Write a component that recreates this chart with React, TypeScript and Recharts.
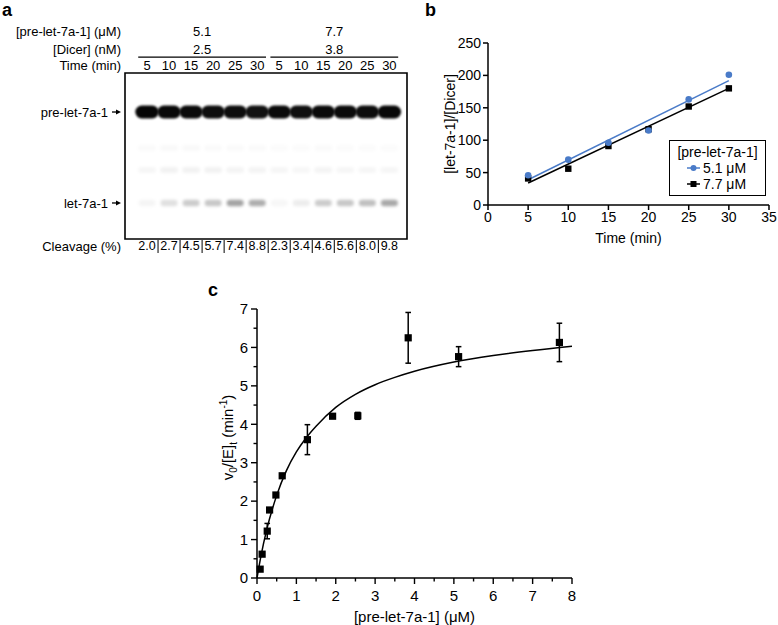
import React from 'react';
import {
  ComposedChart,
  ScatterChart,
  Scatter,
  Line,
  XAxis,
  YAxis,
  ReferenceArea,
  ReferenceDot,
  ReferenceLine,
  ErrorBar,
} from 'recharts';

const FONT = '"Liberation Sans", Arial, Helvetica, sans-serif';
const BLUE = '#4a7bc8';

// ---------- Panel a (gel) ----------
const laneNumbers = [1, 2, 3, 4, 5, 6, 7, 8, 9, 10, 11, 12];
const laneTimes = ['5', '10', '15', '20', '25', '30', '5', '10', '15', '20', '25', '30'];
const cleavagePct = ['2.0', '2.7', '4.5', '5.7', '7.4', '8.8', '2.3', '3.4', '4.6', '5.6', '8.0', '9.8'];
const preLetConc = ['5.1', '7.7'];
const dicerConc = ['2.5', '3.8'];
const groupCenters = [3.5, 9.5];
const groupSpans = [
  [0.6, 6.4],
  [6.6, 12.4],
];
const bandNames = ['pre-let-7a-1', 'let-7a-1'];
const bandPositions = [0.765, 0.217];
const preBandIntensity = [0.98, 0.97, 0.96, 0.95, 0.95, 0.93, 0.96, 0.94, 0.96, 0.96, 0.95, 0.97];
const letBandIntensity = [0.04, 0.12, 0.2, 0.22, 0.36, 0.32, 0.03, 0.07, 0.2, 0.22, 0.25, 0.34];
const midBandIntensity = [0.035, 0.05, 0.05, 0.05, 0.045, 0.045, 0.035, 0.03, 0.045, 0.035, 0.035, 0.035];
const upperBandIntensity = [0.02, 0.025, 0.025, 0.02, 0.02, 0.02, 0.015, 0.015, 0.02, 0.015, 0.015, 0.015];
const midBandPosition = 0.416;
const upperBandPosition = 0.548;

// layout rows (gel coordinate system, 0 = bottom edge, 1 = top edge)
const ROW_CONC = 1.253;
const ROW_DICER = 1.145;
const ROW_LINE = 1.096;
const ROW_TIME = 1.048;
const ROW_CLEAV = -0.042;
const GEL_MAX = 12.8;

const preBand = laneNumbers.map((l, i) => ({ lane: l, pos: bandPositions[0], intensity: preBandIntensity[i] }));
const letBand = laneNumbers.map((l, i) => ({ lane: l, pos: bandPositions[1], intensity: letBandIntensity[i] }));
const midBand = laneNumbers.map((l, i) => ({ lane: l, pos: midBandPosition, intensity: midBandIntensity[i] }));
const upperBand = laneNumbers.map((l, i) => ({ lane: l, pos: upperBandPosition, intensity: upperBandIntensity[i] }));

// ---------- Panel b ----------
const timePoints = [5, 10, 15, 20, 25, 30];
const ratio51 = [46, 70, 96, 115, 163, 201];
const ratio77 = [41, 56, 91, 117, 152, 180];
const fitTimes = [5, 30];
const fit51Values = [39, 192];
const fit77Values = [34, 180];
const bXTicks = [0, 5, 10, 15, 20, 25, 30, 35];
const bYTicks = [0, 50, 100, 150, 200, 250];

const pts51 = timePoints.map((t, i) => ({ t, v: ratio51[i] }));
const pts77 = timePoints.map((t, i) => ({ t, v: ratio77[i] }));
const fit51 = fitTimes.map((t, i) => ({ t, v: fit51Values[i] }));
const fit77 = fitTimes.map((t, i) => ({ t, v: fit77Values[i] }));

// ---------- Panel c ----------
const substrateUM = [0.08, 0.13, 0.26, 0.32, 0.48, 0.64, 1.28, 1.92, 2.56, 3.84, 5.12, 7.68];
const rate = [0.23, 0.62, 1.22, 1.77, 2.16, 2.66, 3.6, 4.21, 4.22, 6.25, 5.76, 6.13];
const rateErr = [0, 0, 0.2, 0, 0, 0, 0.39, 0, 0.09, 0.66, 0.26, 0.5];
const curveX = [0, 0.1, 0.25, 0.5, 0.75, 1, 1.25, 1.5, 2, 2.5, 3, 3.5, 4, 5, 6, 7, 8];
const curveY = [0, 0.57, 1.27, 2.15, 2.8, 3.28, 3.65, 3.95, 4.44, 4.78, 5.03, 5.22, 5.38, 5.62, 5.79, 5.92, 6.03];
const cXTicks = [0, 0.5, 1, 1.5, 2, 2.5, 3, 3.5, 4, 4.5, 5, 5.5, 6, 6.5, 7, 7.5, 8];
const cYTicks = [0, 0.5, 1, 1.5, 2, 2.5, 3, 3.5, 4, 4.5, 5, 5.5, 6, 6.5, 7];

const kinetics = substrateUM.map((s, i) => ({ s, v: rate[i], err: rateErr[i] }));
const mmCurve = curveX.map((s, i) => ({ s, v: curveY[i] }));

// ---------- helpers ----------
const isMajor = (v: number) => Math.abs(v - Math.round(v)) < 1e-6;

const TimeTick = (p: any) => (
  <text x={p.x} y={p.y - 8} dy="0.35em" textAnchor="middle" fontSize={13} fill="#000">
    {laneTimes[p.payload.value - 1]}
  </text>
);

const CleavageTick = (p: any) => {
  const i = p.payload.value - 1;
  return (
    <g>
      <text x={p.x} y={p.y + 7} dy="0.35em" textAnchor="middle" fontSize={12.5} fill="#000">
        {cleavagePct[i]}
      </text>
      {i < 11 && <line x1={p.x + 11} x2={p.x + 11} y1={p.y + 1} y2={p.y + 14} stroke="#000" strokeWidth={1} />}
    </g>
  );
};

const BandTick = (p: any) => {
  const idx = bandPositions.findIndex((b) => Math.abs(b - p.payload.value) < 1e-6);
  return (
    <g>
      <text x={p.x - 17} y={p.y} dy="0.35em" textAnchor="end" fontSize={13} fill="#000">
        {bandNames[idx]}
      </text>
      <line x1={p.x - 13} x2={p.x - 8} y1={p.y} y2={p.y} stroke="#000" strokeWidth={1.3} />
      <polygon points={`${p.x - 4},${p.y} ${p.x - 9},${p.y - 2.6} ${p.x - 9},${p.y + 2.6}`} fill="#000" />
    </g>
  );
};

const makeBand = (w: number, h: number, blur: string) => (p: any) => (
  <rect
    x={p.cx - w / 2}
    y={p.cy - h / 2}
    width={w}
    height={h}
    rx={h / 2}
    fill="#000"
    fillOpacity={p.payload.intensity}
    filter={`url(#${blur})`}
  />
);

const BCircle = (p: any) => <circle cx={p.cx} cy={p.cy} r={3.3} fill={BLUE} />;
const BSquare = (p: any) => <rect x={p.cx - 3.2} y={p.cy - 3.2} width={6.4} height={6.4} fill="#000" />;
const CSquare = (p: any) => <rect x={p.cx - 3.6} y={p.cy - 3.6} width={7.2} height={7.2} fill="#000" />;

const XTitle = (props: any) => {
  const vb = props.viewBox || { x: 0, y: 0, width: 0, height: 0 };
  return (
    <text x={vb.x + vb.width / 2} y={vb.y + props.off} dy="0.35em" textAnchor="middle" fontSize={props.fs} fill="#000">
      {props.text}
    </text>
  );
};

const YTitleB = (props: any) => {
  const vb = props.viewBox || { x: 0, y: 0, width: 0, height: 0 };
  const cx = vb.x + 50;
  const cy = vb.y + vb.height / 2;
  return (
    <text x={cx} y={cy} dy="0.35em" textAnchor="middle" fontSize={14} fill="#000" transform={`rotate(-90, ${cx}, ${cy})`}>
      [let-7a-1]/[Dicer]
    </text>
  );
};

const YTitleC = (props: any) => {
  const vb = props.viewBox || { x: 0, y: 0, width: 0, height: 0 };
  const cx = vb.x + 228;
  const cy = vb.y + vb.height / 2 - 6;
  return (
    <text x={cx} y={cy} dy="0.35em" textAnchor="middle" fontSize={15} fill="#000" transform={`rotate(-90, ${cx}, ${cy})`}>
      v
      <tspan dy="4" fontSize={10}>0</tspan>
      <tspan dy="-4">/[E]</tspan>
      <tspan dy="4" fontSize={10}>t</tspan>
      <tspan dy="-4"> (min</tspan>
      <tspan dy="-6" fontSize={10}>-1</tspan>
      <tspan dy="6">)</tspan>
    </text>
  );
};

const CXTick = (p: any) => {
  const v = p.payload.value;
  const major = isMajor(v);
  return (
    <g>
      <line x1={p.x} x2={p.x} y1={p.y} y2={p.y + (major ? 6 : 3.5)} stroke="#000" strokeWidth={1.4} />
      {major && (
        <text x={p.x} y={p.y + 12} dy="0.71em" textAnchor="middle" fontSize={15} fill="#000">
          {v}
        </text>
      )}
    </g>
  );
};

const CYTick = (p: any) => {
  const v = p.payload.value;
  const major = isMajor(v);
  return (
    <g>
      <line x1={p.x} x2={p.x - (major ? 6 : 3.5)} y1={p.y} y2={p.y} stroke="#000" strokeWidth={1.4} />
      {major && (
        <text x={p.x - 9} y={p.y} dy="0.35em" textAnchor="end" fontSize={15} fill="#000">
          {v}
        </text>
      )}
    </g>
  );
};

const panelLetter = (ch: string, left: number, top: number) => (
  <div
    style={{
      position: 'absolute',
      left,
      top,
      fontWeight: 'bold',
      fontSize: 18,
      lineHeight: '18px',
      fontFamily: FONT,
    }}
  >
    {ch}
  </div>
);

export default function App() {
  return (
    <div style={{ position: 'relative', width: 778, height: 625, background: '#fff', fontFamily: FONT, overflow: 'hidden' }}>
      <style>{`body{margin:0;}`}</style>
      {panelLetter('a', 2, 1)}
      {panelLetter('b', 425, 1)}
      {panelLetter('c', 208, 281)}

      {/* Panel a: gel */}
      <div style={{ position: 'absolute', left: 0, top: 0 }}>
        <ScatterChart width={420} height={262} margin={{ top: 0, right: 13, bottom: 0, left: 0 }}>
          <defs>
            <filter id="blurStrong" x="-50%" y="-50%" width="200%" height="200%">
              <feGaussianBlur stdDeviation="1.2" />
            </filter>
            <filter id="blurSoft" x="-50%" y="-80%" width="200%" height="260%">
              <feGaussianBlur stdDeviation="1.8" />
            </filter>
          </defs>
          <XAxis
            xAxisId="t"
            orientation="top"
            type="number"
            dataKey="lane"
            domain={[0, GEL_MAX]}
            ticks={laneNumbers}
            height={73}
            axisLine={false}
            tickLine={false}
            tickSize={0}
            tickMargin={0}
            tick={TimeTick}
            interval={0}
          />
          <XAxis
            xAxisId="c"
            orientation="bottom"
            type="number"
            dataKey="lane"
            domain={[0, GEL_MAX]}
            ticks={laneNumbers}
            height={23}
            axisLine={false}
            tickLine={false}
            tickSize={0}
            tickMargin={0}
            tick={CleavageTick}
            interval={0}
          />
          <YAxis
            type="number"
            dataKey="pos"
            domain={[0, 1]}
            ticks={bandPositions}
            width={125}
            axisLine={false}
            tickLine={false}
            tickSize={0}
            tickMargin={0}
            tick={BandTick}
            interval={0}
          />
          <ReferenceArea xAxisId="t" x1={0} x2={GEL_MAX} y1={0} y2={1} fill="#fff" fillOpacity={0} stroke="#000" strokeWidth={1.6} ifOverflow="visible" />
          <Scatter xAxisId="t" data={upperBand} dataKey="pos" shape={makeBand(18, 6, 'blurSoft')} isAnimationActive={false} />
          <Scatter xAxisId="t" data={midBand} dataKey="pos" shape={makeBand(18, 6, 'blurSoft')} isAnimationActive={false} />
          <Scatter xAxisId="c" data={letBand} dataKey="pos" shape={makeBand(17, 6.5, 'blurSoft')} isAnimationActive={false} />
          <Scatter xAxisId="t" data={preBand} dataKey="pos" shape={makeBand(23.5, 13, 'blurStrong')} isAnimationActive={false} />

          <ReferenceDot xAxisId="t" x={0} y={ROW_CONC} r={0} fill="none" stroke="none" ifOverflow="visible"
            label={{ value: '[pre-let-7a-1] (\u03bcM)', position: 'left', offset: 4, fontSize: 13, fill: '#000' }} />
          <ReferenceDot xAxisId="t" x={0} y={ROW_DICER} r={0} fill="none" stroke="none" ifOverflow="visible"
            label={{ value: '[Dicer] (nM)', position: 'left', offset: 4, fontSize: 13, fill: '#000' }} />
          <ReferenceDot xAxisId="t" x={0} y={ROW_TIME} r={0} fill="none" stroke="none" ifOverflow="visible"
            label={{ value: 'Time (min)', position: 'left', offset: 4, fontSize: 13, fill: '#000' }} />
          <ReferenceDot xAxisId="t" x={0} y={ROW_CLEAV} r={0} fill="none" stroke="none" ifOverflow="visible"
            label={{ value: 'Cleavage (%)', position: 'left', offset: 4, fontSize: 13, fill: '#000' }} />
          {groupCenters.map((g, i) => (
            <ReferenceDot key={`c${i}`} xAxisId="t" x={g} y={ROW_CONC} r={0} fill="none" stroke="none" ifOverflow="visible"
              label={{ value: preLetConc[i], position: 'center', fontSize: 13, fill: '#000' }} />
          ))}
          {groupCenters.map((g, i) => (
            <ReferenceDot key={`d${i}`} xAxisId="t" x={g} y={ROW_DICER} r={0} fill="none" stroke="none" ifOverflow="visible"
              label={{ value: dicerConc[i], position: 'center', fontSize: 13, fill: '#000' }} />
          ))}
          {groupSpans.map((s, i) => (
            <ReferenceLine key={`l${i}`} xAxisId="t" segment={[{ x: s[0], y: ROW_LINE }, { x: s[1], y: ROW_LINE }]}
              stroke="#000" strokeWidth={1.2} ifOverflow="visible" />
          ))}
        </ScatterChart>
      </div>

      {/* Panel b */}
      <div style={{ position: 'absolute', left: 400, top: 0 }}>
        <ComposedChart width={378} height={255} margin={{ top: 43, right: 9, bottom: 0, left: 0 }}>
          <XAxis
            type="number"
            dataKey="t"
            domain={[0, 35]}
            ticks={bXTicks}
            interval={0}
            height={50}
            stroke="#000"
            strokeWidth={1.5}
            tickSize={5}
            tick={{ fill: '#000', fontSize: 14 }}
            label={<XTitle text="Time (min)" off={33} fs={14} />}
          />
          <YAxis
            type="number"
            domain={[0, 250]}
            ticks={bYTicks}
            interval={0}
            width={88}
            stroke="#000"
            strokeWidth={1.5}
            tickSize={5}
            tick={{ fill: '#000', fontSize: 14 }}
            label={<YTitleB />}
          />
          <Line data={fit51} dataKey="v" stroke={BLUE} strokeWidth={1.5} dot={false} isAnimationActive={false} />
          <Line data={fit77} dataKey="v" stroke="#000" strokeWidth={1.5} dot={false} isAnimationActive={false} />
          <Scatter data={pts77} dataKey="v" shape={BSquare} isAnimationActive={false} />
          <Scatter data={pts51} dataKey="v" shape={BCircle} isAnimationActive={false} />
        </ComposedChart>
      </div>

      {/* Panel b legend */}
      <div
        style={{
          position: 'absolute',
          left: 669,
          top: 140,
          width: 97,
          height: 56,
          boxSizing: 'border-box',
          border: '1.5px solid #000',
          background: '#fff',
          fontSize: 14,
          lineHeight: '16px',
          color: '#000',
          paddingTop: 3,
        }}
      >
        <div style={{ textAlign: 'center' }}>[pre-let-7a-1]</div>
        {[
          { label: '5.1 \u03bcM', color: BLUE, circle: true },
          { label: '7.7 \u03bcM', color: '#000', circle: false },
        ].map((r) => (
          <div key={r.label} style={{ display: 'flex', alignItems: 'center', paddingLeft: 17 }}>
            <svg width={13} height={10} style={{ marginRight: 3 }}>
              <line x1={0} x2={13} y1={5} y2={5} stroke={r.color} strokeWidth={1.5} />
              {r.circle ? <circle cx={6.5} cy={5} r={3} fill={r.color} /> : <rect x={3.5} y={2} width={6} height={6} fill={r.color} />}
            </svg>
            <span>{r.label}</span>
          </div>
        ))}
      </div>

      {/* Panel c */}
      <div style={{ position: 'absolute', left: 0, top: 280 }}>
        <ComposedChart width={778} height={345} margin={{ top: 29, right: 206, bottom: 0, left: 0 }}>
          <XAxis
            type="number"
            dataKey="s"
            domain={[0, 8]}
            ticks={cXTicks}
            interval={0}
            height={47}
            stroke="#000"
            strokeWidth={1.5}
            tickLine={false}
            tickSize={0}
            tickMargin={0}
            tick={CXTick}
            label={<XTitle text={'[pre-let-7a-1] (\u03bcM)'} off={39} fs={15} />}
          />
          <YAxis
            type="number"
            domain={[0, 7]}
            ticks={cYTicks}
            interval={0}
            width={257}
            stroke="#000"
            strokeWidth={1.5}
            tickLine={false}
            tickSize={0}
            tickMargin={0}
            tick={CYTick}
            label={<YTitleC />}
          />
          <Line data={mmCurve} dataKey="v" type="monotone" stroke="#000" strokeWidth={1.5} dot={false} isAnimationActive={false} />
          <Scatter data={kinetics} dataKey="v" shape={CSquare} isAnimationActive={false}>
            <ErrorBar dataKey="err" direction="y" width={2.8} stroke="#000" strokeWidth={1.5} />
          </Scatter>
        </ComposedChart>
      </div>
    </div>
  );
}
